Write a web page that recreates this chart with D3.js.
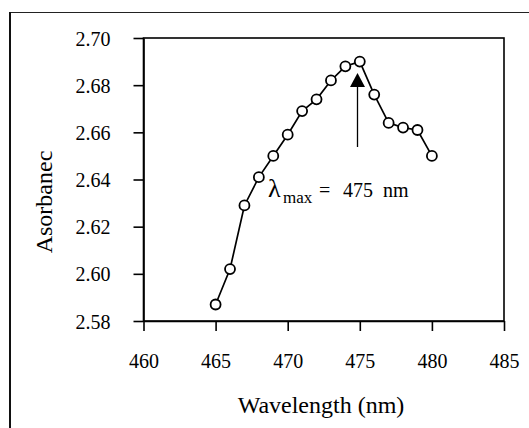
<!DOCTYPE html>
<html><head><meta charset="utf-8">
<script src="https://cdn.jsdelivr.net/npm/d3@7"></script>
</head>
<body style="margin:0;background:#fff">
<svg id="chart" width="529" height="428" style="display:block"></svg>
<script>
const wavelengths = [465,466,467,468,469,470,471,472,473,474,475,476,477,478,479,480];
const absorbance = [2.587,2.602,2.629,2.641,2.650,2.659,2.669,2.674,2.682,2.688,2.690,2.676,2.664,2.662,2.661,2.650];
const xTicks = [460,465,470,475,480,485];
const yTicks = [2.58,2.60,2.62,2.64,2.66,2.68,2.70];
const peakWavelength = 475;

const FONT = '"Liberation Serif", "Times New Roman", serif';
const svg = d3.select("#chart").attr("font-family", FONT);
const m = {left:143.5, right:504, top:38, bottom:321};

// outer frame (left and top edges visible)
svg.append("line").attr("x1",10).attr("x2",529).attr("y1",12.5).attr("y2",12.5)
  .attr("stroke","#222").attr("stroke-width",1.2);
svg.append("line").attr("x1",10).attr("x2",10).attr("y1",12).attr("y2",428)
  .attr("stroke","#111").attr("stroke-width",2);

const x = d3.scaleLinear().domain([460,485]).range([m.left,m.right]);
const y = d3.scaleLinear().domain([2.58,2.70]).range([m.bottom,m.top]);

// plot box
svg.append("rect").attr("x",m.left).attr("y",m.top)
  .attr("width",m.right-m.left).attr("height",m.bottom-m.top)
  .attr("fill","none").attr("stroke","#000").attr("stroke-width",1.6);

const xAxis = svg.append("g").attr("transform",`translate(0,${m.bottom})`)
  .call(d3.axisBottom(x).tickValues(xTicks).tickFormat(d3.format("d")).tickSizeInner(10).tickSizeOuter(0).tickPadding(23));
const yAxis = svg.append("g").attr("transform",`translate(${m.left},0)`)
  .call(d3.axisLeft(y).tickValues(yTicks).tickFormat(d3.format(".2f")).tickSizeInner(10).tickSizeOuter(0).tickPadding(23));
[xAxis,yAxis].forEach(g=>{
  g.attr("font-family", FONT).attr("font-size", 20);
  g.select(".domain").attr("stroke","#000").attr("stroke-width",1.6);
  g.selectAll(".tick line").attr("stroke","#000").attr("stroke-width",1.6);
  g.selectAll(".tick text").attr("fill","#000").attr("font-family", FONT).attr("font-size",20);
});
yAxis.selectAll(".tick text").attr("dy","0.35em");

// axis titles
svg.append("text").attr("x",321).attr("y",413)
  .attr("text-anchor","middle").attr("font-family",FONT).attr("font-size",24).text("Wavelength (nm)");
svg.append("text").attr("transform",`translate(52,202) rotate(-90)`)
  .attr("text-anchor","middle").attr("font-family",FONT).attr("font-size",24).text("Asorbanec");

// line
const pts = wavelengths.map((w,i)=>({w,a:absorbance[i]}));
svg.append("path").datum(pts)
  .attr("d",d3.line().x(d=>x(d.w)).y(d=>y(d.a)))
  .attr("fill","none").attr("stroke","#000").attr("stroke-width",1.7);
svg.selectAll("circle.pt").data(pts).join("circle").attr("class","pt")
  .attr("cx",d=>x(d.w)).attr("cy",d=>y(d.a)).attr("r",5)
  .attr("fill","#fff").attr("stroke","#000").attr("stroke-width",1.8);

// arrow
const ax = x(peakWavelength) - 2.3;
svg.append("line").attr("x1",ax).attr("x2",ax).attr("y1",147).attr("y2",86)
  .attr("stroke","#000").attr("stroke-width",1.3);
svg.append("path").attr("d",`M${ax},73 L${ax-7.5},87 L${ax+7.5},87 Z`).attr("fill","#000");

// annotation
const ann = svg.append("g").attr("font-family",FONT).attr("fill","#000");
ann.append("text").attr("x",268).attr("y",197).attr("font-size",26).text("λ");
ann.append("text").attr("x",283).attr("y",203).attr("font-size",17).text("max");
ann.append("text").attr("x",319).attr("y",197).attr("font-size",20).text("=");
ann.append("text").attr("x",343).attr("y",197).attr("font-size",20).text("475");
ann.append("text").attr("x",383).attr("y",197).attr("font-size",20).text("nm");
</script>
</body></html>
